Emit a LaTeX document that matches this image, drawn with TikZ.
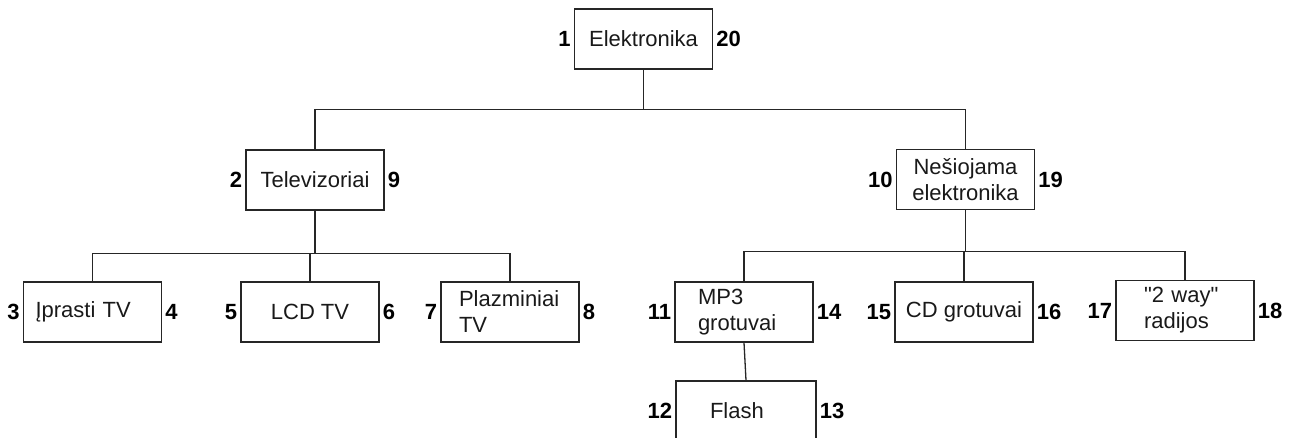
\documentclass[tikz,border=0pt]{standalone}
\usepackage{fontspec}
\newfontfamily\plainsans{Liberation Sans}
\usetikzlibrary{positioning}
\tikzset{
  item/.style={rectangle, draw=black!85, line width=1.3pt, align=center, font=\plainsans\fontsize{22}{26}\selectfont, text=black!90, minimum width=138pt, minimum height=60pt, inner sep=0pt},
  iteml/.style={item, align=left, text width=#1},
  num/.style={font=\plainsans\fontsize{22}{26}\selectfont\bfseries, inner sep=0pt},
  link/.style={draw=black!85, line width=1.3pt}
}

\begin{document}
\begin{tikzpicture}[x=1pt, y=-1pt, node distance=3pt]
\useasboundingbox (0,0) rectangle (1292,437);
\clip (0,0) rectangle (1292,437);

\node[item] (el) at (643.5,39) {Elektronika};
\node[item] (tv) at (315,180) {Televizoriai};
\node[item] (nes) at (965.5,179.5) {Nešiojama\\elektronika};

\node[iteml=114pt] (ip) at (92.5,312) {Įprasti TV};
\node[item] (lcd) at (310,312) {LCD TV};
\node[iteml=102pt] (pl) at (510,312) {Plazminiai\\TV};

\node[iteml=92pt] (mp3) at (744,312) {MP3\\grotuvai};
\node[item] (cd) at (964,312) {CD grotuvai};
\node[iteml=82pt] (way) at (1185,310.5) {"2 way"\\radijos};
\node[iteml=72pt, minimum width=140pt] (fl) at (746,411) {Flash};

% numbering
\node[num, left=of el] (n1) {1};
\node[num, right=of el] (n20) {20};
\node[num, left=of tv] (n2) {2};
\node[num, right=of tv] (n9) {9};
\node[num, left=of nes] (n10) {10};
\node[num, right=of nes] (n19) {19};
\node[num, left=of ip] (n3) {3};
\node[num, right=of ip] (n4) {4};
\node[num, left=of lcd] (n5) {5};
\node[num, right=of lcd] (n6) {6};
\node[num, left=of pl] (n7) {7};
\node[num, right=of pl] (n8) {8};
\node[num, left=of mp3] (n11) {11};
\node[num, right=of mp3] (n14) {14};
\node[num, left=of cd] (n15) {15};
\node[num, right=of cd] (n16) {16};
\node[num, left=of way] (n17) {17};
\node[num, right=of way] (n18) {18};
\node[num, left=of fl] (n12) {12};
\node[num, right=of fl] (n13) {13};

\draw[link] (el.south) -- ++(0,40) coordinate (b1) -| (tv.north);
\draw[link] (b1) -| (nes.north);

\draw[link] (tv.south) -- ++(0,43) coordinate (b2);
\draw[link] (b2) -| (ip.north);
\draw[link] (b2) -| (lcd.north);
\draw[link] (b2) -| (pl.north);

\draw[link] (nes.south) -- ++(0,41) coordinate (b3);
\draw[link] (b3) -| (mp3.north);
\draw[link] (b3) -| (cd.north);
\draw[link] (b3) -| (way.north);
\draw[link] (mp3.south) -- (fl.north);
\end{tikzpicture}
\end{document}
